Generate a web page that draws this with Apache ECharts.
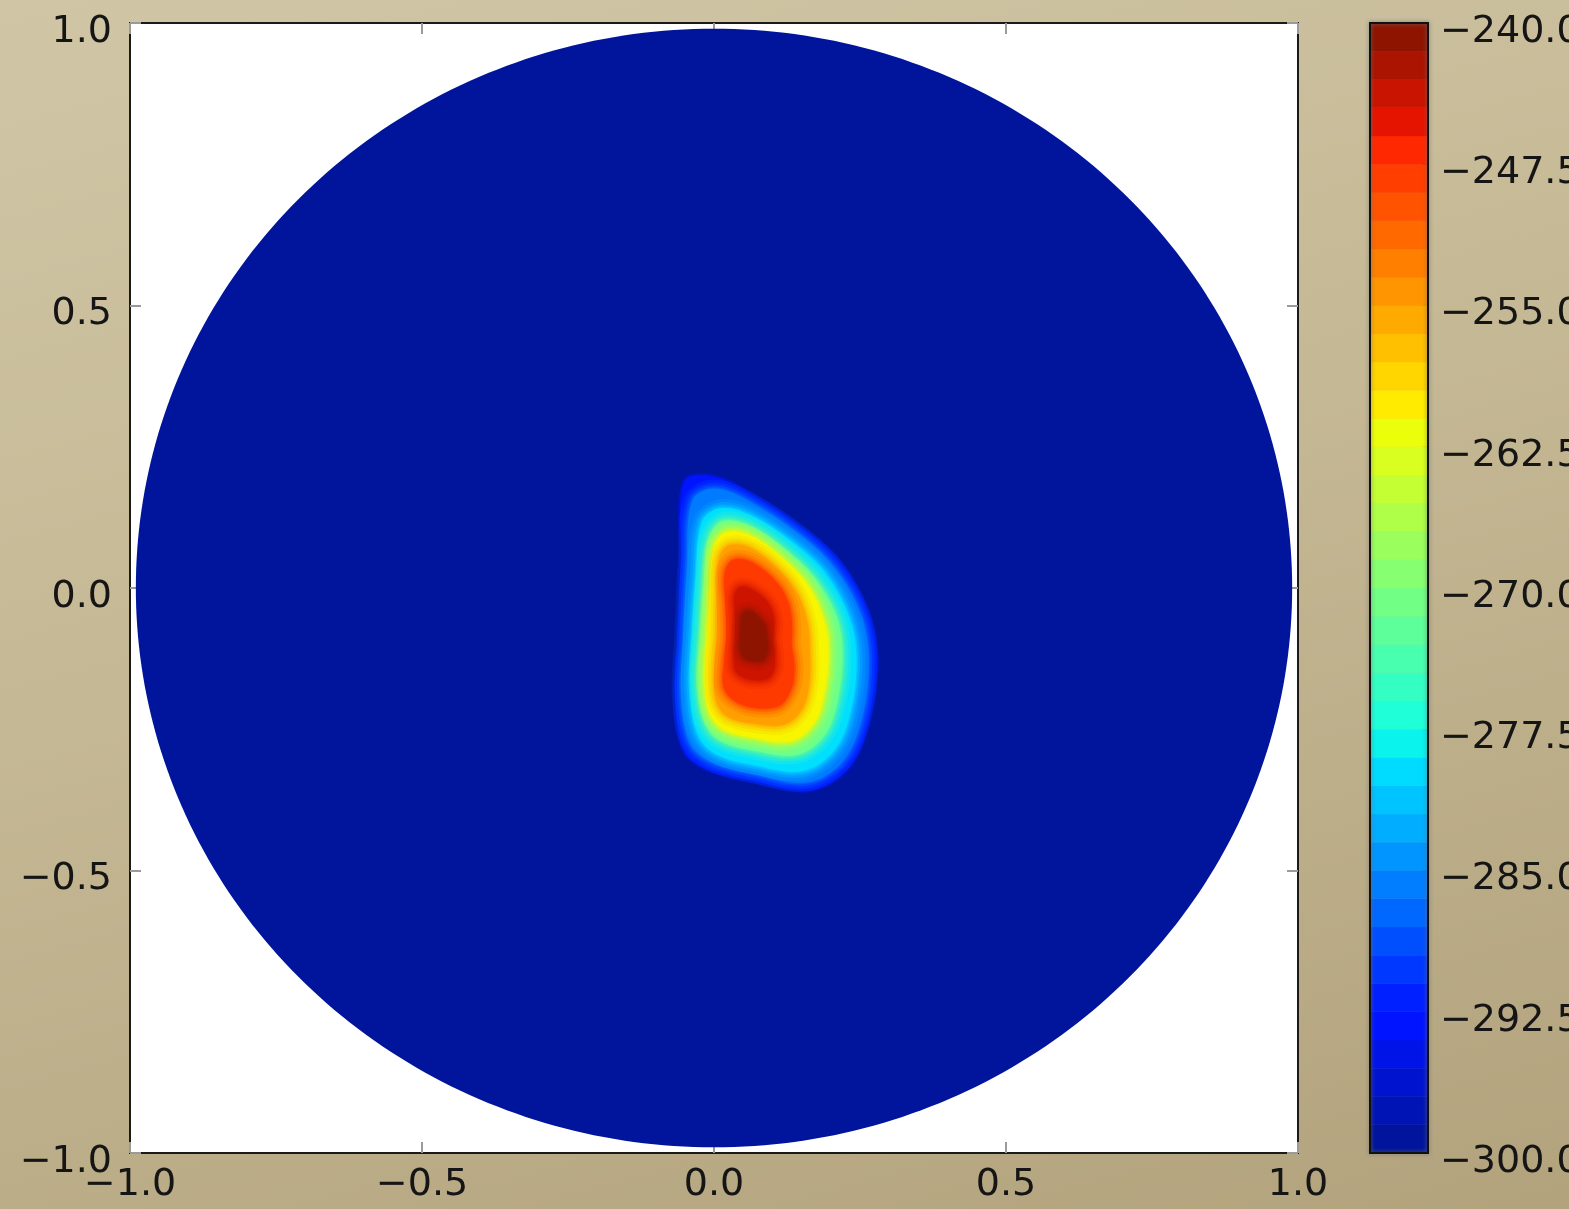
<!DOCTYPE html>
<html>
<head>
<meta charset="utf-8">
<title>contourf on disk</title>
<script src="https://cdn.jsdelivr.net/npm/echarts@6/dist/echarts.min.js"></script>
<style>
    html, body {margin: 0; padding: 0;}
    body {
        width: 1569px; height: 1209px; overflow: hidden;
        background: linear-gradient(165deg, #d0c6a6 0%, #c5b894 45%, #b2a37d 100%);
    }
    #main {width: 1569px; height: 1209px;}
</style>
</head>
<body>
<div id="main"></div>
<script>
// colour scale of the colorbar (contour level boundaries)
const cbLevels = [-300, -298.5, -297, -295.5, -294, -292.5, -291, -289.5, -288, -286.5,
    -285, -283.5, -282, -280.5, -279, -277.5, -276, -274.5, -273, -271.5,
    -270, -268.5, -267, -265.5, -264, -262.5, -261, -259.5, -258, -256.5,
    -255, -253.5, -252, -250.5, -249, -247.5, -246, -244.5, -243, -241.5, -240];
const cbMin = -300, cbMax = -240;

// domain of the field (unit disk, values below -300 outside the blob)
const diskRadius = 0.99;

// contour lines, outermost first
const contourLevels = [-293, -286, -279.5, -271, -261, -255, -248, -244, -240.8];
const contourEdge = [[-0.051, 0.188], [-0.003, 0.198], [0.065, 0.166], [0.152, 0.106], [0.216, 0.046], [0.264, -0.043], [0.279, -0.127], [0.265, -0.237], [0.230, -0.319], [0.164, -0.358], [0.065, -0.342], [-0.010, -0.322], [-0.051, -0.290], [-0.067, -0.198], [-0.062, -0.087], [-0.057, 0.050]];
const contourBlue = [[-0.037, 0.155], [0.002, 0.176], [0.065, 0.151], [0.147, 0.095], [0.206, 0.037], [0.251, -0.045], [0.265, -0.125], [0.254, -0.228], [0.221, -0.306], [0.160, -0.344], [0.065, -0.329], [-0.006, -0.308], [-0.042, -0.274], [-0.057, -0.190], [-0.053, -0.087], [-0.047, 0.039]];
const contourCyan = [[-0.021, 0.116], [0.011, 0.141], [0.065, 0.128], [0.140, 0.077], [0.192, 0.025], [0.231, -0.050], [0.244, -0.121], [0.235, -0.214], [0.207, -0.286], [0.152, -0.324], [0.065, -0.313], [0.000, -0.292], [-0.030, -0.254], [-0.041, -0.177], [-0.038, -0.087], [-0.031, 0.021]];
const contourGreen = [[-0.009, 0.089], [0.016, 0.119], [0.066, 0.108], [0.132, 0.060], [0.177, 0.012], [0.211, -0.054], [0.220, -0.116], [0.212, -0.197], [0.189, -0.261], [0.142, -0.295], [0.066, -0.287], [0.007, -0.268], [-0.018, -0.233], [-0.028, -0.166], [-0.024, -0.087], [-0.018, 0.007]];
const contourYellow = [[-0.001, 0.070], [0.021, 0.099], [0.066, 0.091], [0.125, 0.045], [0.164, 0.000], [0.189, -0.059], [0.196, -0.111], [0.190, -0.180], [0.173, -0.237], [0.133, -0.271], [0.066, -0.265], [0.014, -0.249], [-0.009, -0.217], [-0.016, -0.156], [-0.012, -0.087], [-0.007, -0.005]];
const contourOrange = [[0.008, 0.051], [0.027, 0.076], [0.066, 0.069], [0.117, 0.027], [0.146, -0.016], [0.161, -0.065], [0.164, -0.105], [0.164, -0.160], [0.153, -0.210], [0.122, -0.241], [0.066, -0.240], [0.021, -0.226], [0.003, -0.197], [0.000, -0.142], [0.004, -0.087], [0.005, -0.019]];
const contourRed = [[0.018, 0.026], [0.033, 0.050], [0.066, 0.045], [0.109, 0.008], [0.129, -0.031], [0.134, -0.072], [0.133, -0.099], [0.138, -0.141], [0.132, -0.180], [0.111, -0.209], [0.066, -0.212], [0.031, -0.197], [0.016, -0.174], [0.017, -0.128], [0.021, -0.087], [0.020, -0.035]];
const contourDark = [[0.035, -0.013], [0.045, 0.002], [0.066, -0.003], [0.093, -0.027], [0.103, -0.055], [0.102, -0.079], [0.101, -0.093], [0.104, -0.115], [0.104, -0.140], [0.093, -0.160], [0.066, -0.163], [0.044, -0.155], [0.035, -0.142], [0.034, -0.114], [0.036, -0.087], [0.036, -0.053]];
const contourCore = [[0.049, -0.046], [0.056, -0.041], [0.067, -0.044], [0.080, -0.056], [0.088, -0.068], [0.090, -0.081], [0.091, -0.091], [0.093, -0.106], [0.090, -0.119], [0.082, -0.129], [0.066, -0.129], [0.054, -0.126], [0.048, -0.119], [0.044, -0.106], [0.045, -0.087], [0.046, -0.064]];
const contours = [contourEdge, contourBlue, contourCyan, contourGreen, contourYellow,
    contourOrange, contourRed, contourDark, contourCore];

// jet colormap (matplotlib segments, slightly lifted)
const JET = {
    r: [[0, 0], [0.35, 0], [0.66, 1], [0.89, 1], [1, 0.5]],
    g: [[0, 0.08], [0.125, 0.08], [0.375, 1], [0.64, 1], [0.91, 0.08], [1, 0.08]],
    b: [[0, 0.56], [0.11, 1], [0.34, 1], [0.65, 0], [1, 0]]
};
function seg(s, t) {
    for (let i = 1; i < s.length; i++) {
        if (t <= s[i][0]) {
            let a = s[i - 1], b = s[i];
            return a[1] + (b[1] - a[1]) * (t - a[0]) / (b[0] - a[0]);
        }
    }
    return s[s.length - 1][1];
}
function jet(v, alpha) {
    let t = Math.min(1, Math.max(0, (v - cbMin) / (cbMax - cbMin)));
    let c = [seg(JET.r, t), seg(JET.g, t), seg(JET.b, t)].map(x => Math.round(x * 255));
    return 'rgba(' + c.join(',') + ',' + (alpha == null ? 1 : alpha) + ')';
}
const bottomColor = jet((cbLevels[0] + cbLevels[1]) / 2);

const fmt = v => (Math.abs(v) < 1e-9 ? 0 : v).toFixed(1).replace('-', '\u2212');
const labelStyle = {fontFamily: 'DejaVu Sans', fontSize: 38, color: '#151515'};
const frame = {show: true, onZero: false, lineStyle: {color: '#1a1a1a', width: 2}};
const innerTick = {show: true, inside: true, length: 11, lineStyle: {color: '#9a9a9a', width: 2}};

let myChart = echarts.init(document.getElementById('main'), null, {renderer: 'canvas'});

let option = {
    backgroundColor: 'transparent',
    animation: false,
    grid: [
        {left: 130, top: 23, width: 1168, height: 1130, show: true,
            backgroundColor: '#ffffff', borderWidth: 0, outerBoundsMode: 'none'},
        {left: 1370, top: 23, width: 58, height: 1130, show: true, z: 5,
            backgroundColor: 'transparent', borderColor: '#111', borderWidth: 2,
            shadowColor: 'rgba(110,110,110,0.9)', shadowBlur: 4, outerBoundsMode: 'none'}
    ],
    xAxis: [
        {type: 'value', gridIndex: 0, min: -1, max: 1, interval: 0.5, position: 'bottom',
            axisLine: frame, axisTick: innerTick, splitLine: {show: false},
            axisLabel: Object.assign({margin: 13, showMinLabel: true, showMaxLabel: true, formatter: fmt}, labelStyle)},
        {type: 'value', gridIndex: 0, min: -1, max: 1, interval: 0.5, position: 'top',
            axisLine: frame, axisTick: innerTick, splitLine: {show: false}, axisLabel: {show: false}},
        {type: 'value', gridIndex: 1, min: 0, max: 1, show: false}
    ],
    yAxis: [
        {type: 'value', gridIndex: 0, min: -1, max: 1, interval: 0.5, position: 'left',
            axisLine: frame, axisTick: innerTick, splitLine: {show: false},
            axisLabel: Object.assign({margin: 18, verticalAlign: 'top', lineHeight: 18,
                showMinLabel: true, showMaxLabel: true, formatter: fmt}, labelStyle)},
        {type: 'value', gridIndex: 0, min: -1, max: 1, interval: 0.5, position: 'right',
            axisLine: frame, axisTick: innerTick, splitLine: {show: false}, axisLabel: {show: false}},
        {type: 'value', gridIndex: 1, min: cbMin, max: cbMax, interval: 7.5, position: 'right',
            axisLine: {show: false, onZero: false}, splitLine: {show: false},
            axisTick: {show: true, inside: true, length: 6, lineStyle: {color: '#333', width: 2}},
            axisLabel: Object.assign({margin: 12, verticalAlign: 'top', lineHeight: 18,
                showMinLabel: true, showMaxLabel: true, formatter: fmt}, labelStyle)}
    ],
    series: [
        {
            // disk (field below the lowest level)
            type: 'custom', xAxisIndex: 0, yAxisIndex: 0, z: 2,
            data: [[0, 0, diskRadius]],
            renderItem: function (params, api) {
                let r = api.value(2), pts = [];
                for (let k = 0; k < 360; k++) {
                    let a = k * Math.PI / 180;
                    pts.push(api.coord([api.value(0) + r * Math.cos(a), api.value(1) + r * Math.sin(a)]));
                }
                return {type: 'polygon', shape: {points: pts}, style: {fill: bottomColor}};
            }
        },
        {
            // filled contours, outer to inner; soft halos blend each level into the one outside it
            type: 'custom', xAxisIndex: 0, yAxisIndex: 0, z: 3,
            data: contourLevels.map((lv, i) => [0, 0, i]),
            renderItem: function (params, api) {
                let i = api.value(2);
                let lv = contourLevels[i];
                let pts = contours[i].map(p => api.coord(p));
                let shape = {points: pts, smooth: 0.35};
                let halos = i === 0 ? [[4, 0.45]] : [[18, 0.14], [12, 0.2], [7, 0.3], [3, 0.45]];
                let children = halos.map(h => ({
                    type: 'polygon', shape: shape,
                    style: {fill: 'none', stroke: jet(lv, h[1]), lineWidth: h[0], lineJoin: 'round'}
                }));
                children.push({type: 'polygon', shape: shape, style: {fill: jet(lv)}});
                return {type: 'group', children: children};
            }
        },
        {
            // colorbar bands
            type: 'custom', xAxisIndex: 2, yAxisIndex: 2, z: 3,
            data: cbLevels.slice(0, -1).map((lo, i) => [0, lo, cbLevels[i + 1]]),
            renderItem: function (params, api) {
                let p1 = api.coord([0, api.value(2)]);
                let p2 = api.coord([1, api.value(1)]);
                let color = jet((api.value(1) + api.value(2)) / 2);
                return {
                    type: 'rect',
                    shape: {x: p1[0], y: p1[1], width: p2[0] - p1[0], height: p2[1] - p1[1]},
                    style: {fill: color, stroke: color, lineWidth: 0.5}
                };
            }
        }
    ]
};

myChart.setOption(option);
</script>
</body>
</html>
